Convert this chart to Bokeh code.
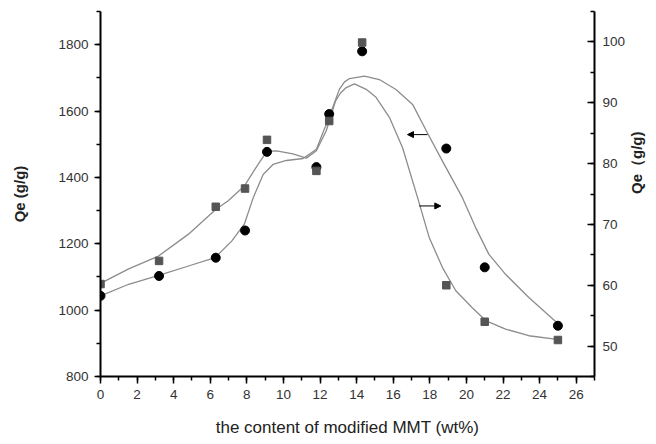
import math
from bokeh.plotting import figure
from bokeh.models import Range1d, LinearAxis, SingleIntervalTicker, Arrow, NormalHead
from bokeh.embed import file_html
from bokeh.resources import INLINE

# measured points
mmt = [0, 3.2, 6.3, 7.9, 9.1, 11.8, 12.5, 14.3, 18.9, 21, 25]
qe_left = [1043, 1103, 1158, 1240, 1477, 1431, 1591, 1780, 1487, 1129, 953]
qe_right = [60.2, 64.0, 72.9, 75.9, 83.9, 78.8, 87.0, 99.9, 60.0, 54.0, 51.0]

# fitted curves
fit_left_x = [0, 1.54, 3.27, 4.81, 6.26, 7.17, 7.86, 8.35, 8.89, 9.43, 10.16, 11.07, 11.8, 12.45,
              13.06, 13.34, 13.61, 14.43, 15.24, 16.15, 17.06, 17.87, 18.69, 19.78, 20.51, 21.23,
              22.14, 23.41, 24.95]
fit_left_y = [1043, 1078, 1106, 1133, 1158, 1208, 1259, 1339, 1409, 1439, 1451, 1457, 1485, 1575,
              1666, 1688, 1698, 1705, 1695, 1665, 1620, 1534, 1449, 1339, 1248, 1168, 1108, 1038,
              962]
fit_right_x = [0, 1.54, 3.17, 4.81, 6.31, 6.98, 7.86, 8.49, 9.09, 9.62, 10.52, 11.25, 11.8, 12.34,
               12.85, 13.12, 13.43, 13.88, 14.52, 15.06, 15.79, 16.51, 17.33, 17.96, 18.69, 19.42,
               20.32, 21.05, 22.14, 23.41, 24.95]
fit_right_y = [60.3, 62.7, 64.8, 68.4, 72.5, 73.9, 76.3, 79.3, 82.0, 82.1, 81.6, 80.9, 82.1, 85.4,
               90.3, 91.6, 92.5, 93.1, 92.2, 90.9, 87.6, 82.6, 74.4, 67.9, 62.9, 59.1, 56.3, 54.2,
               52.8, 51.7, 51.1]

# arrow annotations (left-axis units)
arrow_left = dict(x0=17.87, x1=16.78, y=1529)
arrow_right = dict(x0=17.42, x1=18.6, y=1314)

FONT = "Liberation Sans"

p = figure(width=656, height=444, output_backend="svg", toolbar_location=None,
           x_range=Range1d(0, 27), y_range=Range1d(800, 1900),
           min_border_left=100, min_border_right=60, min_border_top=11, min_border_bottom=68)
p.extra_y_ranges = {"right": Range1d(45, 105)}
p.outline_line_color = None
p.xgrid.visible = False
p.ygrid.visible = False
p.background_fill_color = "white"
p.border_fill_color = "white"

def style_axis(ax):
    ax.axis_line_width = 2
    ax.axis_line_color = "black"
    ax.major_tick_line_width = 1.5
    ax.minor_tick_line_width = 1.5
    ax.major_tick_line_color = "black"
    ax.minor_tick_line_color = "black"
    ax.major_label_text_font = FONT
    ax.major_label_text_font_size = "13.5px"
    ax.major_label_text_color = "#333333"
    ax.axis_label_text_font = FONT
    ax.axis_label_text_color = "#222222"

xa = p.xaxis[0]
xa.ticker = SingleIntervalTicker(interval=2, num_minor_ticks=2)
style_axis(xa)
xa.major_tick_out = 7
xa.major_tick_in = 0
xa.minor_tick_out = 4
xa.minor_tick_in = 0
xa.major_label_standoff = 6
xa.axis_label = "the content of modified MMT (wt%)"
xa.axis_label_text_font_size = "17px"
xa.axis_label_text_font_style = "normal"
xa.axis_label_standoff = 16

ya = p.yaxis[0]
ya.ticker = SingleIntervalTicker(interval=200, num_minor_ticks=2)
style_axis(ya)
ya.major_tick_out = 6
ya.major_tick_in = 0
ya.minor_tick_out = 4
ya.minor_tick_in = 0
ya.major_label_standoff = 6
ya.axis_label = "Qe (g/g)"
ya.axis_label_text_font_size = "15px"
ya.axis_label_text_font_style = "bold"
ya.axis_label_standoff = 27

ra = LinearAxis(y_range_name="right", ticker=SingleIntervalTicker(interval=10, num_minor_ticks=2))
style_axis(ra)
ra.major_tick_out = 0
ra.major_tick_in = 7
ra.minor_tick_out = 0
ra.minor_tick_in = 4
ra.major_label_standoff = 8
ra.axis_label = "Qe（g/g)"
ra.axis_label_text_font_size = "15px"
ra.axis_label_text_font_style = "bold"
ra.axis_label_standoff = 8
ra.axis_label_orientation = math.pi / 2
p.add_layout(ra, "right")

# curves
p.line(fit_left_x, fit_left_y, line_color="#8c8c8c", line_width=1.3, line_join="round")
p.line(fit_right_x, fit_right_y, line_color="#8c8c8c", line_width=1.3, line_join="round",
       y_range_name="right")

# markers
p.scatter(mmt, qe_left, marker="circle", size=9, fill_color="black", line_color="black")
p.scatter(mmt, qe_right, marker="square", size=7.5, fill_color="#555555", line_color="#555555",
          y_range_name="right")

# arrows
for a in (arrow_left, arrow_right):
    p.add_layout(Arrow(end=NormalHead(size=6, fill_color="black", line_color="black"),
                       x_start=a["x0"], y_start=a["y"], x_end=a["x1"], y_end=a["y"],
                       line_color="black", line_width=1))

open("out.html", "w").write(file_html(p, INLINE))
